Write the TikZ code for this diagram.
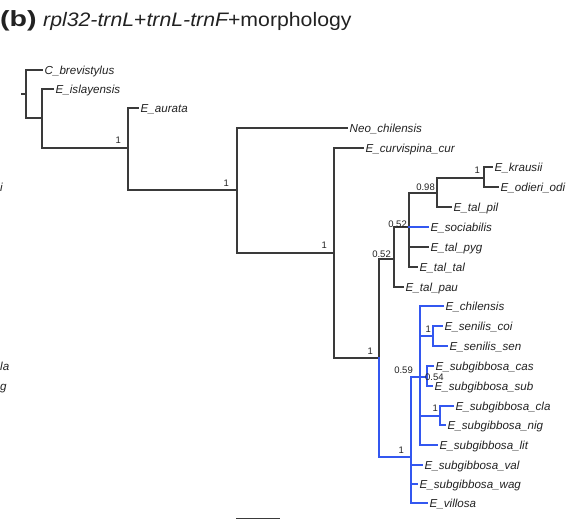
\documentclass[tikz,border=0pt]{standalone}
\usepackage{fontspec}
\setmainfont{Liberation Sans}
\usetikzlibrary{positioning}
\definecolor{treegray}{HTML}{3A3A3A}
\definecolor{treeblue}{HTML}{3357F0}
\definecolor{treetext}{HTML}{222222}
\tikzset{
  branch/.style={draw=treegray, line width=1.4pt, line cap=rect},
  blueBranch/.style={draw=treeblue, line width=1.4pt, line cap=rect},
  tipLabel/.style={anchor=west, inner xsep=2.5pt, inner ysep=0pt, text height=8.3pt, text depth=0pt,
    text=treetext, font=\fontsize{11.6}{13}\selectfont\itshape},
  supLabel/.style={anchor=south east, inner sep=0.5pt, text height=6.8pt, text depth=0pt,
    text=treetext, font=\fontsize{9.5}{10}\selectfont}
}

\begin{document}
\begin{tikzpicture}[x=1pt, y=-1pt]
  \useasboundingbox (0,0) rectangle (579,519);

  % title
  \node[anchor=base west, inner sep=0pt, text=treetext] (panel) at (0,27)
    {\fontsize{22}{22}\selectfont\bfseries\scalebox{1.3}[1]{(b)}};
  \node[anchor=base west, inner sep=0pt, text=treetext] (title) at (43,27)
    {\fontsize{19.5}{20}\selectfont\scalebox{1.09}[1]{\itshape rpl32-trnL\upshape+\itshape trnL-trnF\upshape+morphology}};

  % edges of the neighbouring panel
  \node[tipLabel, inner xsep=0pt] (fragA) at (0,187) {i};
  \node[tipLabel, inner xsep=0pt] (fragB) at (0,366) {la};
  \node[tipLabel, inner xsep=0pt] (fragC) at (0,386) {g};

  % internal nodes
  \coordinate (rootTip) at (22,94);
  \coordinate (r) at (26,94);
  \coordinate (n1) at (42,118);
  \coordinate (n2) at (128,148);
  \coordinate (n3) at (237,190);
  \coordinate (n4) at (334,253);
  \coordinate (n5) at (379,358);
  \coordinate (n6) at (394,259);
  \coordinate (n7) at (409,227);
  \coordinate (n8) at (437,193);
  \coordinate (n9) at (484,178);
  \coordinate (nB) at (411,457);
  \coordinate (nC) at (420,377);
  \coordinate (nD) at (433,336);
  \coordinate (nE) at (427,377);
  \coordinate (nF) at (440,416);

  % tips
  \node[tipLabel] (Cbrev) at (42,70) {C\_brevistylus};
  \node[tipLabel] (Eisla) at (53,89) {E\_islayensis};
  \node[tipLabel] (Eaura) at (138,108) {E\_aurata};
  \node[tipLabel] (Neo) at (347,128) {Neo\_chilensis};
  \node[tipLabel] (Ecurv) at (363,148) {E\_curvispina\_cur};
  \node[tipLabel] (Ekrau) at (492,167) {E\_krausii};
  \node[tipLabel] (Eodie) at (498,187) {E\_odieri\_odi};
  \node[tipLabel] (Etpil) at (451,207) {E\_tal\_pil};
  \node[tipLabel] (Esoci) at (428,227) {E\_sociabilis};
  \node[tipLabel] (Etpyg) at (428,247) {E\_tal\_pyg};
  \node[tipLabel] (Ettal) at (417,267) {E\_tal\_tal};
  \node[tipLabel] (Etpau) at (403,287) {E\_tal\_pau};
  \node[tipLabel] (Echil) at (443,306) {E\_chilensis};
  \node[tipLabel] (Escoi) at (442,326) {E\_senilis\_coi};
  \node[tipLabel] (Essen) at (447,346) {E\_senilis\_sen};
  \node[tipLabel] (Escas) at (433,366) {E\_subgibbosa\_cas};
  \node[tipLabel] (Essub) at (432,386) {E\_subgibbosa\_sub};
  \node[tipLabel] (Escla) at (453,406) {E\_subgibbosa\_cla};
  \node[tipLabel] (Esnig) at (445,425) {E\_subgibbosa\_nig};
  \node[tipLabel] (Eslit) at (437,445) {E\_subgibbosa\_lit};
  \node[tipLabel] (Esval) at (422,465) {E\_subgibbosa\_val};
  \node[tipLabel] (Eswag) at (417,484) {E\_subgibbosa\_wag};
  \node[tipLabel] (Evill) at (427,503) {E\_villosa};

  % black part of the tree
  \draw[branch] (rootTip) -- (r);
  \draw[branch] (r) |- (Cbrev.west);
  \draw[branch] (r) |- (n1);
  \draw[branch] (n1) |- (Eisla.west);
  \draw[branch] (n1) |- (n2);
  \draw[branch] (n2) |- (Eaura.west);
  \draw[branch] (n2) |- (n3);
  \draw[branch] (n3) |- (Neo.west);
  \draw[branch] (n3) |- (n4);
  \draw[branch] (n4) |- (Ecurv.west);
  \draw[branch] (n4) |- (n5);
  \draw[branch] (n5) |- (n6);
  \draw[branch] (n6) |- (n7);
  \draw[branch] (n6) |- (Etpau.west);
  \draw[branch] (n7) |- (n8);
  \draw[branch] (n7) |- (Etpyg.west);
  \draw[branch] (n7) |- (Ettal.west);
  \draw[branch] (n8) |- (n9);
  \draw[branch] (n8) |- (Etpil.west);
  \draw[branch] (n9) |- (Ekrau.west);
  \draw[branch] (n9) |- (Eodie.west);

  % blue part of the tree
  \draw[blueBranch] (n7) |- (Esoci.west);
  \draw[blueBranch] (n5) |- (nB);
  \draw[blueBranch] (nB) |- (nC);
  \draw[blueBranch] (nB) |- (Esval.west);
  \draw[blueBranch] (nB) |- (Eswag.west);
  \draw[blueBranch] (nB) |- (Evill.west);
  \draw[blueBranch] (nC) |- (Echil.west);
  \draw[blueBranch] (nC) |- (nD);
  \draw[blueBranch] (nC) -- (nE);
  \draw[blueBranch] (nC) |- (nF);
  \draw[blueBranch] (nC) |- (Eslit.west);
  \draw[blueBranch] (nD) |- (Escoi.west);
  \draw[blueBranch] (nD) |- (Essen.west);
  \draw[blueBranch] (nE) |- (Escas.west);
  \draw[blueBranch] (nE) |- (Essub.west);
  \draw[blueBranch] (nF) |- (Escla.west);
  \draw[blueBranch] (nF) |- (Esnig.west);

  % support values
  \node[supLabel, xshift=-6.5pt, yshift=3.5pt] (s2) at (n2) {1};
  \node[supLabel, xshift=-7.5pt, yshift=3pt] (s3) at (n3) {1};
  \node[supLabel, xshift=-6.5pt, yshift=4pt] (s4) at (n4) {1};
  \node[supLabel, xshift=-5.5pt, yshift=3pt] (s5) at (n5) {1};
  \node[supLabel, xshift=-2.5pt, yshift=1pt] (s6) at (n6) {0.52};
  \node[supLabel, xshift=-1.5pt, yshift=-1pt] (s7) at (n7) {0.52};
  \node[supLabel, xshift=-1.5pt, yshift=2pt] (s8) at (n8) {0.98};
  \node[supLabel, xshift=-3.5pt, yshift=4pt] (s9) at (n9) {1};
  \node[supLabel, xshift=-6.5pt, yshift=3pt] (sB) at (nB) {1};
  \node[supLabel, xshift=-6.5pt, yshift=3pt] (sC) at (nC) {0.59};
  \node[supLabel, xshift=-1.5pt, yshift=3pt] (sD) at (nD) {1};
  \node[supLabel, anchor=west, xshift=-2.5pt, yshift=0pt] (sE) at (nE) {0.54};
  \node[supLabel, xshift=-1.5pt, yshift=4pt] (sF) at (nF) {1};

  % scale bar, cut by the lower edge
  \draw[branch, line cap=butt] (236,518.3) -- (280,518.3);
\end{tikzpicture}
\end{document}
